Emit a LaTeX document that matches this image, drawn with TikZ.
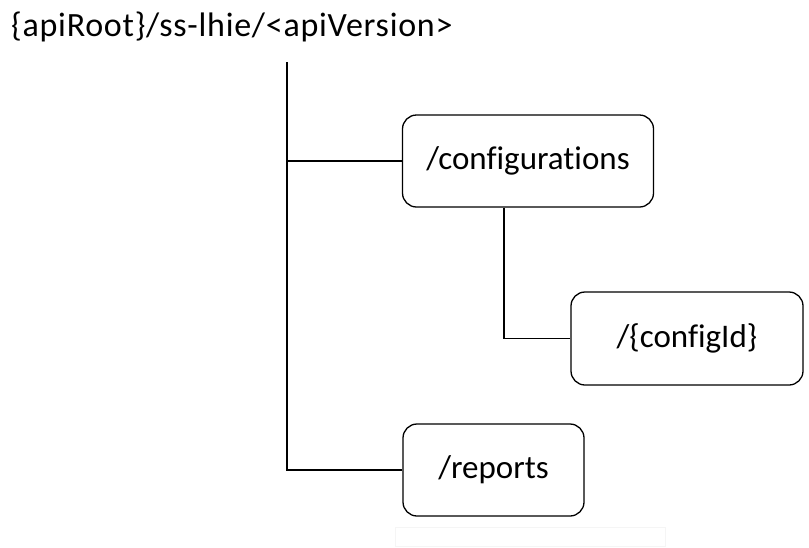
\documentclass[tikz,border=0pt]{standalone}
\usepackage{fontspec}
\setmainfont[Ligatures=NoCommon]{Carlito}
\newfontfamily\titlefont[LetterSpace=2.2]{Carlito}
\usetikzlibrary{positioning}

\tikzset{
    resbox/.style={draw, line width=1.3pt, rounded corners=14pt, fill=white, font=\fontsize{33}{38}\selectfont},
    branch/.style={line width=1.3pt}
}

\begin{document}
\begin{tikzpicture}[x=1pt, y=-1pt]
            \def \xtrunk   {287};
            \def \xsub     {504};
            \def \ytop     {62};
            \def \yconf    {161};
            \def \ycid     {338.5};
            \def \yrep     {470};

            \useasboundingbox (0,0) rectangle (809,547);
% root path
            \node [anchor=base west, inner sep=0pt, font=\titlefont\fontsize{34}{38}\selectfont] (title) at (11, 36) {\{apiRoot\}/ss-lhie/<apiVersion>};
            \coordinate (trunktop) at (\xtrunk, \ytop);
% resources
            \node [resbox, minimum width=251pt, minimum height=92pt] (conf) at (528, \yconf) {/configurations};
            \node [resbox, minimum width=232pt, minimum height=93pt] (cid) at (687, \ycid) {/\{configId\}};
            \node [resbox, minimum width=181pt, minimum height=92pt] (reports) at (493.5, \yrep) {/reports};
% tree lines
            \draw [branch] (trunktop) -- (trunktop |- reports.west) -- (reports.west);
            \draw [branch] (trunktop |- conf.west) -- (conf.west);
            \draw [branch] (conf.south -| \xsub, 0) |- (cid.west);
% faint frame
            \draw [black!4] (395, 527) rectangle (665, 546);

        \end{tikzpicture}
\end{document}
